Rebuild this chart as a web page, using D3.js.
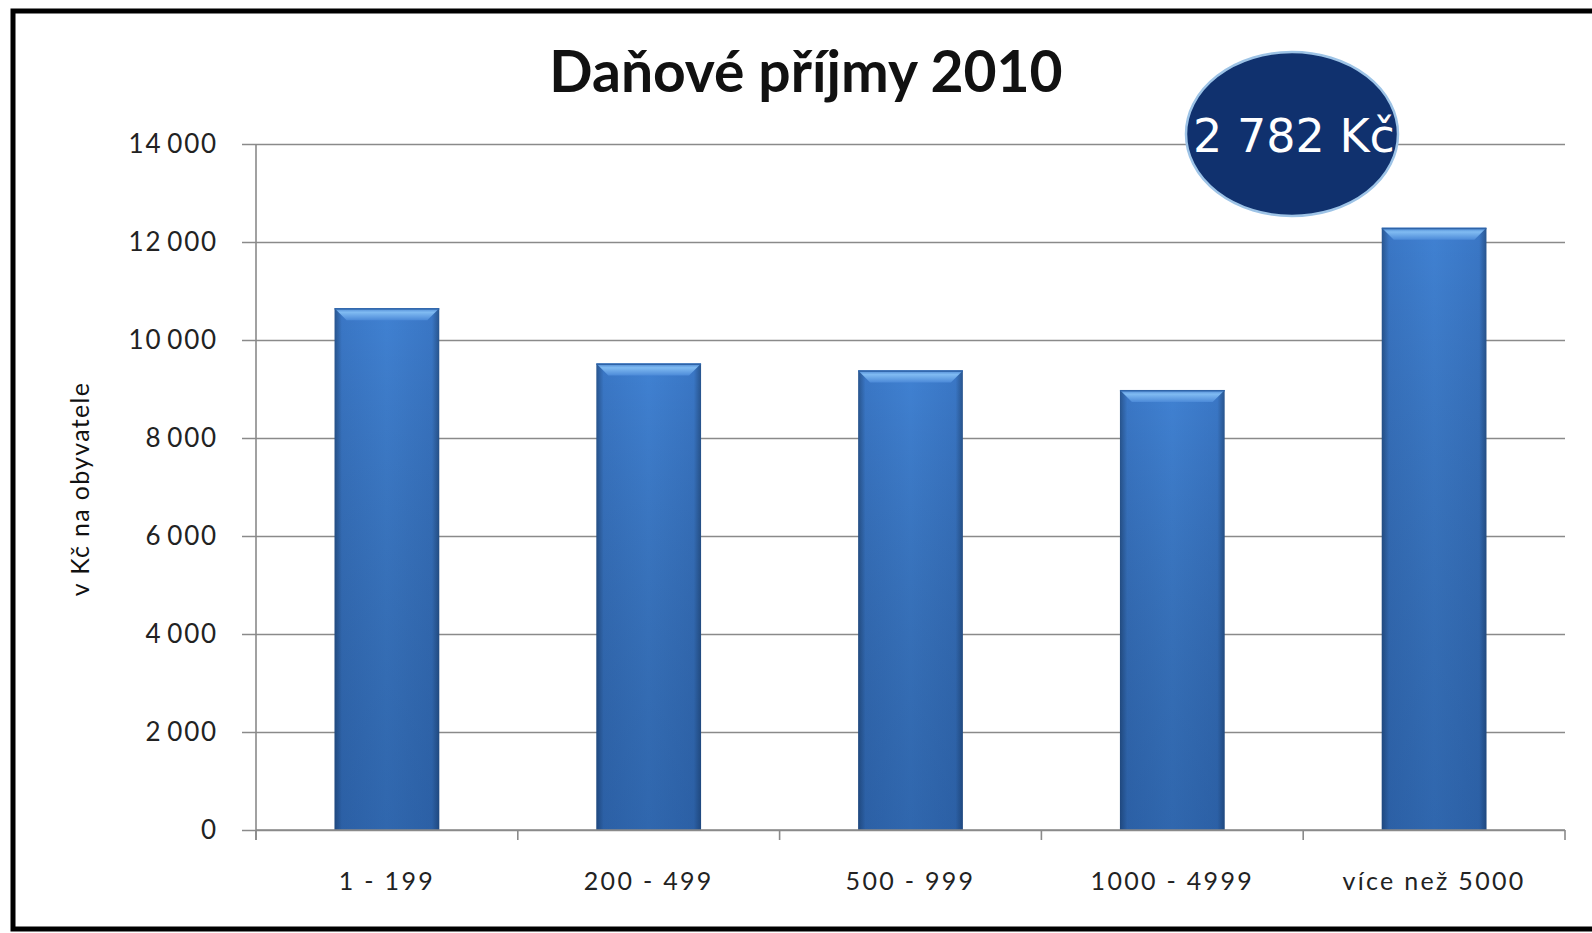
<!DOCTYPE html>
<html>
<head>
<meta charset="utf-8">
<script src="https://cdn.jsdelivr.net/npm/d3@7"></script>
<style>
  body { margin: 0; background: #fff; }
  .tick-label { font-family: Lato, "Open Sans", sans-serif; fill: #222; }
</style>
</head>
<body>
<div id="chart"></div>
<script>
// chart data
const categories = ["1 - 199", "200 - 499", "500 - 999", "1000 - 4999", "více než 5000"];
const values = [10650, 9520, 9380, 8980, 12290];
const yTicks = [0, 2000, 4000, 6000, 8000, 10000, 12000, 14000];
const title = "Daňové příjmy 2010";
const yTitle = "v Kč na obyvatele";
const badgeText = "2 782 Kč";

const width = 1592, height = 933;
const margins = { left: 256, right: 27, top: 144, bottom: 103 };

const svg = d3.select("#chart")
  .append("svg")
  .attr("width", width)
  .attr("height", height);

// frame
svg.append("rect")
  .attr("x", 13).attr("y", 11)
  .attr("width", width + 20).attr("height", 918)
  .attr("fill", "none")
  .attr("stroke", "#000")
  .attr("stroke-width", 5);

let defs = svg.append("defs");
let side = defs.append("linearGradient").attr("id", "barSide")
  .attr("x1", "0").attr("x2", "1").attr("y1", "0").attr("y2", "0");
side.append("stop").attr("offset", "0").attr("stop-color", "#28558f");
side.append("stop").attr("offset", "0.07").attr("stop-color", "#3a77c6");
side.append("stop").attr("offset", "0.5").attr("stop-color", "#4081d2");
side.append("stop").attr("offset", "0.93").attr("stop-color", "#3a77c6");
side.append("stop").attr("offset", "1").attr("stop-color", "#28558f");

let shade = defs.append("linearGradient").attr("id", "barShade")
  .attr("x1", "0").attr("x2", "0").attr("y1", "0").attr("y2", "1");
shade.append("stop").attr("offset", "0").attr("stop-color", "#000").attr("stop-opacity", 0);
shade.append("stop").attr("offset", "1").attr("stop-color", "#0a2a5a").attr("stop-opacity", 0.3);

let bevel = defs.append("linearGradient").attr("id", "barBevel")
  .attr("x1", "0").attr("x2", "0").attr("y1", "0").attr("y2", "1");
bevel.append("stop").attr("offset", "0").attr("stop-color", "#4a86d2");
bevel.append("stop").attr("offset", "0.35").attr("stop-color", "#80bbf2");
bevel.append("stop").attr("offset", "1").attr("stop-color", "#4c8ad8");

const plotW = width - margins.left - margins.right;
const plotH = height - margins.top - margins.bottom;

const g = svg.append("g")
  .attr("transform", "translate(" + margins.left + "," + margins.top + ")");

const x = d3.scaleBand()
  .domain(categories)
  .range([0, plotW])
  .paddingInner(0.6)
  .paddingOuter(0.3);

const y = d3.scaleLinear()
  .domain([0, 14000])
  .range([plotH, 0]);

// gridlines + y axis
const yAxis = g.append("g")
  .call(d3.axisLeft(y)
    .tickValues(yTicks)
    .tickSize(-plotW)
    .tickPadding(0)
    .tickFormat(function(d) { return ""; }));
yAxis.select(".domain").remove();
yAxis.selectAll(".tick line")
  .attr("x1", -14)
  .attr("stroke", "#8a8a8a")
  .attr("stroke-width", 1.6);

g.selectAll(".ylab")
  .data(yTicks)
  .enter().append("text")
  .attr("class", "tick-label")
  .attr("x", -38)
  .attr("y", function(d) { return y(d); })
  .attr("dy", "0.36em")
  .attr("text-anchor", "end")
  .attr("font-size", 26)
  .attr("letter-spacing", 1.8)
  .text(function(d) { return d === 0 ? "0" : d3.format(",")(d).replace(",", "\u2009"); });

// y axis line
g.append("line")
  .attr("x1", 0).attr("x2", 0)
  .attr("y1", y(14000)).attr("y2", y(0) + 10)
  .attr("stroke", "#8a8a8a")
  .attr("stroke-width", 1.6);

// bars
let bars = g.selectAll(".bar")
  .data(values)
  .enter().append("g")
  .attr("class", "bar");

bars.append("rect")
  .attr("x", function(d, i) { return x(categories[i]); })
  .attr("y", function(d) { return y(d); })
  .attr("width", x.bandwidth())
  .attr("height", function(d) { return y(0) - y(d); })
  .attr("fill", "url(#barSide)");

bars.append("rect")
  .attr("x", function(d, i) { return x(categories[i]); })
  .attr("y", function(d) { return y(d); })
  .attr("width", x.bandwidth())
  .attr("height", function(d) { return y(0) - y(d); })
  .attr("fill", "url(#barShade)");

bars.append("path")
  .attr("d", function(d, i) {
    let x0 = x(categories[i]), x1 = x0 + x.bandwidth(), t = y(d), b = 12;
    return "M" + x0 + "," + t + "L" + x1 + "," + t + "L" + (x1 - b) + "," + (t + b) +
      "L" + (x0 + b) + "," + (t + b) + "Z";
  })
  .attr("fill", "url(#barBevel)");

bars.append("rect")
  .attr("x", function(d, i) { return x(categories[i]); })
  .attr("y", function(d) { return y(d); })
  .attr("width", x.bandwidth())
  .attr("height", 1.5)
  .attr("fill", "#2f64a8");

// x axis baseline and category ticks
const xEdges = d3.range(categories.length + 1).map(function(i) { return i * x.step(); });
g.append("line")
  .attr("x1", 0).attr("x2", plotW)
  .attr("y1", y(0)).attr("y2", y(0))
  .attr("stroke", "#8a8a8a")
  .attr("stroke-width", 1.6);
g.selectAll(".xtick")
  .data(xEdges)
  .enter().append("line")
  .attr("x1", function(d) { return d; }).attr("x2", function(d) { return d; })
  .attr("y1", y(0)).attr("y2", y(0) + 10)
  .attr("stroke", "#8a8a8a")
  .attr("stroke-width", 1.6);

g.selectAll(".xlab")
  .data(categories)
  .enter().append("text")
  .attr("class", "tick-label")
  .attr("x", function(d) { return x(d) + x.bandwidth() / 2; })
  .attr("y", y(0) + 60)
  .attr("text-anchor", "middle")
  .attr("font-size", 25)
  .attr("letter-spacing", 2.3)
  .text(function(d) { return d; });

// titles
svg.append("text")
  .attr("x", 806)
  .attr("y", 92)
  .attr("text-anchor", "middle")
  .attr("font-family", "Lato, 'Open Sans', sans-serif")
  .attr("font-weight", "bold")
  .attr("font-size", 57)
  .attr("fill", "#111")
  .text(title);

svg.append("text")
  .attr("transform", "translate(89,489) rotate(-90)")
  .attr("text-anchor", "middle")
  .attr("font-family", "Lato, 'Open Sans', sans-serif")
  .attr("font-size", 25)
  .attr("letter-spacing", 1.3)
  .attr("fill", "#111")
  .text(yTitle);

// badge
svg.append("ellipse")
  .attr("cx", 1292).attr("cy", 134)
  .attr("rx", 106).attr("ry", 82)
  .attr("fill", "#10316e")
  .attr("stroke", "#9dc3e6")
  .attr("stroke-width", 2.5);

svg.append("text")
  .attr("x", 1294)
  .attr("y", 152)
  .attr("text-anchor", "middle")
  .attr("font-family", "'DejaVu Sans', sans-serif")
  .attr("font-size", 46)
  .attr("fill", "#fff")
  .text(badgeText);
</script>
</body>
</html>
